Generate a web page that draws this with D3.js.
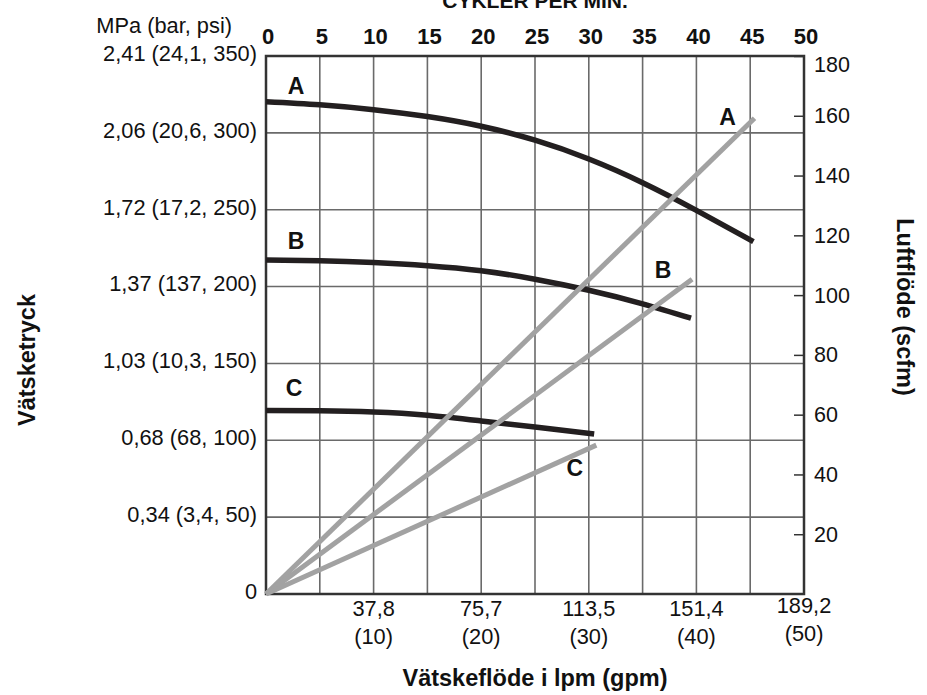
<!DOCTYPE html>
<html>
<head>
<meta charset="utf-8">
<script src="https://cdn.jsdelivr.net/npm/d3@7"></script>
<style>
  body { margin: 0; background: #fff; }
  text { font-family: "Liberation Sans", Arial, Helvetica, sans-serif; fill: #111; }
</style>
</head>
<body>
<svg id="chart" width="927" height="695"></svg>
<script>
// cycles per minute on top, gpm (lpm) below -- both 0..50
const cycleTicks = [0, 5, 10, 15, 20, 25, 30, 35, 40, 45, 50];
const gpmTicks = [10, 20, 30, 40, 50];
const lpmLabels = ['37,8', '75,7', '113,5', '151,4', '189,2'];

// fluid pressure (psi) with MPa / bar labels
const psiTicks = [0, 50, 100, 150, 200, 250, 300, 350];
const psiLabels = ['0', '0,34 (3,4, 50)', '0,68 (68, 100)', '1,03 (10,3, 150)',
  '1,37 (137, 200)', '1,72 (17,2, 250)', '2,06 (20,6, 300)', '2,41 (24,1, 350)'];

// air flow (scfm), right axis
const scfmTicks = [20, 40, 60, 80, 100, 120, 140, 160, 180];

// pressure curves (gpm, psi)
const pressA = [[0, 320.3], [5, 318.3], [10, 315.1], [15, 310.6], [20, 304.3],
  [25, 295.2], [30, 283.0], [35, 267.6], [40, 249.6], [45.3, 229.2]];
const pressB = [[0, 217.3], [5, 216.8], [10, 215.6], [15, 213.6], [20, 210.3],
  [25, 204.8], [30, 197.6], [35, 188.8], [39.5, 179.4]];
const pressC = [[0, 119.3], [5, 119.2], [10, 118.4], [15, 116.3], [20, 112.6],
  [25, 108.6], [30.5, 104.1]];

// air consumption lines (cpm, scfm)
const airA = [[0, 0], [45.4, 159.2]];
const airB = [[0, 0], [39.6, 105.3]];
const airC = [[0, 0], [30.7, 49.8]];

// curve letters: [x, value, letter]
const pressLabels = [[2.8, 330.5, 'A'], [2.8, 229.7, 'B'], [2.6, 134, 'C']];
const airLabels = [[42.9, 159.6, 'A'], [36.9, 108.4, 'B'], [28.7, 42.2, 'C']];

const plotL = 266, plotR = 804, plotT = 56, plotB = 594;
const svg = d3.select('#chart');

const x = d3.scaleLinear().domain([0, 50]).range([plotL, plotR]),
  yPsi = d3.scaleLinear().domain([0, 350]).range([plotB, plotT]),
  yAir = d3.scaleLinear().domain([0, 180]).range([plotB, plotT]);

const grid = svg.append('g')
  .attr('stroke', '#6a6a6a')
  .attr('stroke-width', 1.6);

grid.selectAll('line.v')
  .data(cycleTicks.slice(1, -1))
  .join('line')
  .attr('class', 'v')
  .attr('x1', d => x(d)).attr('x2', d => x(d))
  .attr('y1', plotT).attr('y2', plotB);

grid.selectAll('line.h')
  .data(psiTicks.slice(1, -1))
  .join('line')
  .attr('class', 'h')
  .attr('x1', plotL).attr('x2', plotR)
  .attr('y1', d => yPsi(d)).attr('y2', d => yPsi(d));

// right axis, ticks pointing inward
const airAxis = svg.append('g')
  .attr('transform', `translate(${plotR},0)`)
  .call(d3.axisRight(yAir).tickValues(scfmTicks).tickSizeInner(-10).tickSizeOuter(0).tickPadding(10));
airAxis.select('.domain').remove();
airAxis.selectAll('line').attr('stroke', '#333').attr('stroke-width', 1.5);
airAxis.selectAll('text')
  .attr('font-size', 21.5)
  .attr('fill', '#111')
  .attr('font-family', '"Liberation Sans", Arial, sans-serif')
  .attr('dy', d => (d === 180 ? '0.7em' : '0.32em'));

// frame
svg.append('rect')
  .attr('x', plotL).attr('y', plotT)
  .attr('width', plotR - plotL).attr('height', plotB - plotT)
  .attr('fill', 'none')
  .attr('stroke', '#333')
  .attr('stroke-width', 2.5);

const line = d3.line()
  .x(d => x(d[0]))
  .curve(d3.curveNatural);

// pressure curves
svg.selectAll('path.press')
  .data([pressA, pressB, pressC])
  .join('path')
  .attr('class', 'press')
  .attr('d', d => line.y(p => yPsi(p[1]))(d))
  .attr('fill', 'none')
  .attr('stroke', '#231f20')
  .attr('stroke-width', 5.5);

// air lines
svg.selectAll('path.air')
  .data([airA, airB, airC])
  .join('path')
  .attr('class', 'air')
  .attr('d', d => d3.line().x(p => x(p[0])).y(p => yAir(p[1]))(d))
  .attr('fill', 'none')
  .attr('stroke', '#a2a2a2')
  .attr('stroke-width', 5);

svg.selectAll('text.plab')
  .data(pressLabels)
  .join('text')
  .attr('class', 'plab')
  .attr('x', d => x(d[0])).attr('y', d => yPsi(d[1]))
  .attr('dy', '0.36em')
  .attr('text-anchor', 'middle')
  .attr('font-size', 23).attr('font-weight', 'bold')
  .text(d => d[2]);

svg.selectAll('text.alab')
  .data(airLabels)
  .join('text')
  .attr('class', 'alab')
  .attr('x', d => x(d[0])).attr('y', d => yAir(d[1]))
  .attr('dy', '0.36em')
  .attr('text-anchor', 'middle')
  .attr('font-size', 23).attr('font-weight', 'bold')
  .text(d => d[2]);

// left labels
svg.selectAll('text.psi')
  .data(psiTicks)
  .join('text')
  .attr('class', 'psi')
  .attr('x', 257)
  .attr('y', d => yPsi(d) - 3)
  .attr('dy', '0.36em')
  .attr('text-anchor', 'end')
  .attr('font-size', 21.8)
  .text((d, i) => psiLabels[i]);

svg.append('text')
  .attr('x', 232).attr('y', 25).attr('dy', '0.36em')
  .attr('text-anchor', 'end')
  .attr('font-size', 21.8)
  .text('MPa (bar, psi)');

// top cycle labels
svg.selectAll('text.cyc')
  .data(cycleTicks)
  .join('text')
  .attr('class', 'cyc')
  .attr('x', d => x(d) + 2)
  .attr('y', 36).attr('dy', '0.36em')
  .attr('text-anchor', 'middle')
  .attr('font-size', 22).attr('font-weight', 'bold')
  .text(d => d);

// title sits partly above the page edge, as in the source figure
svg.append('text')
  .attr('x', (plotL + plotR) / 2).attr('y', 8)
  .attr('text-anchor', 'middle')
  .attr('font-size', 21).attr('font-weight', 'bold')
  .text('CYKLER PER MIN.');

// bottom flow labels
const flow = svg.selectAll('g.flow')
  .data(gpmTicks)
  .join('g')
  .attr('class', 'flow')
  .attr('transform', (d, i) => `translate(${x(d)},${i === 4 ? -3 : 0})`);
flow.append('text')
  .attr('y', 608).attr('dy', '0.36em')
  .attr('text-anchor', 'middle').attr('font-size', 21.8)
  .text((d, i) => lpmLabels[i]);
flow.append('text')
  .attr('y', 636).attr('dy', '0.36em')
  .attr('text-anchor', 'middle').attr('font-size', 21.8)
  .text(d => `(${d})`);

svg.append('text')
  .attr('x', (plotL + plotR) / 2).attr('y', 678).attr('dy', '0.36em')
  .attr('text-anchor', 'middle')
  .attr('font-size', 23.5).attr('font-weight', 'bold')
  .text('Vätskeflöde i lpm (gpm)');

svg.append('text')
  .attr('transform', 'translate(35,360) rotate(-90)')
  .attr('text-anchor', 'middle')
  .attr('font-size', 23.5).attr('font-weight', 'bold')
  .text('Vätsketryck');

svg.append('text')
  .attr('transform', 'translate(897,307) rotate(90)')
  .attr('text-anchor', 'middle')
  .attr('font-size', 23.5).attr('font-weight', 'bold')
  .text('Luftflöde (scfm)');
</script>
</body>
</html>
